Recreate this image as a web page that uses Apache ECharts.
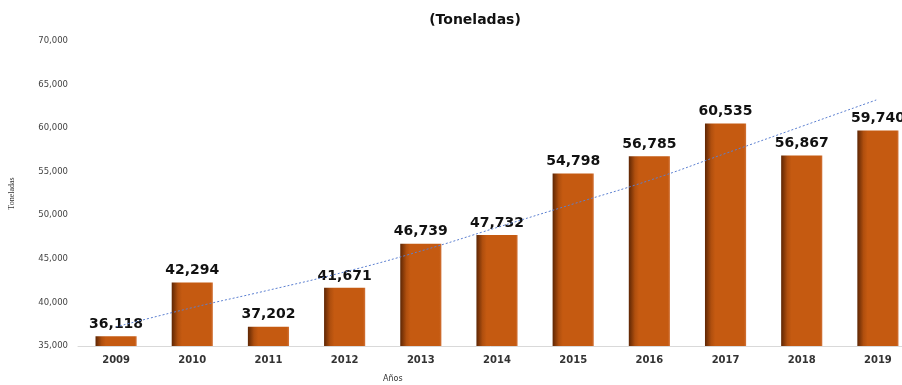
<!DOCTYPE html>
<html>
<head>
<meta charset="utf-8">
<script src="https://cdn.jsdelivr.net/npm/echarts@6/dist/echarts.min.js"></script>
<style>
  html, body { margin: 0; padding: 0; background: #fff; }
  #chart { width: 902px; height: 385px; }
</style>
</head>
<body>
<div id="chart"></div>
<script>
// años
var years = ['2009', '2010', '2011', '2012', '2013', '2014', '2015', '2016', '2017', '2018', '2019'];
// toneladas por año
var toneladas = [36118, 42294, 37202, 41671, 46739, 47732, 54798, 56785, 60535, 56867, 59740];
// línea de tendencia
var tendencia = [37200, 39400, 41400, 43500, 45900, 48600, 51300, 54000, 57100, 60200, 63300];

var fmt = function (v) { return Number(v).toLocaleString('en-US'); };

var chart = echarts.init(document.getElementById('chart'));
chart.setOption({
  animation: false,
  title: {
    text: '(Toneladas)',
    left: 470,
    top: 8,
    textAlign: 'center',
    textStyle: { fontFamily: 'DejaVu Sans', fontWeight: 'bold', fontSize: 14, color: '#111' }
  },
  // texto del eje x, a la izquierda como en el original
  graphic: [{
    type: 'text',
    left: 383,
    top: 375,
    style: { text: 'Años', fontFamily: 'DejaVu Sans', fontSize: 8, fill: '#333' }
  }],
  // el gráfico original está cortado a la derecha
  grid: { left: 78, width: 838, top: 41, bottom: 39, outerBoundsMode: 'none', containLabel: false },
  xAxis: {
    type: 'category',
    data: years,
    axisLine: { lineStyle: { color: '#d9d9d9' } },
    axisTick: { show: false },
    axisLabel: { fontFamily: 'DejaVu Sans', fontWeight: 'bold', fontSize: 10, color: '#333', margin: 9 }
  },
  yAxis: {
    type: 'value',
    min: 35000,
    max: 70000,
    interval: 5000,
    name: 'Toneladas',
    nameLocation: 'middle',
    nameGap: 62,
    nameRotate: 90,
    nameTextStyle: { fontFamily: 'Liberation Sans Narrow', fontSize: 8, color: '#333' },
    axisLine: { show: false },
    axisTick: { show: false },
    splitLine: { show: false },
    axisLabel: {
      fontFamily: 'DejaVu Sans', fontSize: 8.5, color: '#444', margin: 10,
      formatter: fmt
    }
  },
  series: [
    {
      type: 'bar',
      data: toneladas,
      barWidth: '54%',
      itemStyle: {
        color: {
          type: 'linear', x: 0, y: 0, x2: 1, y2: 0,
          colorStops: [
            { offset: 0, color: '#5e2604' },
            { offset: 0.15, color: '#b04f0e' },
            { offset: 0.25, color: '#c55a11' },
            { offset: 0.95, color: '#c55a11' },
            { offset: 1, color: '#d2743a' }
          ]
        }
      },
      label: {
        show: true,
        position: 'top',
        distance: 5,
        fontFamily: 'DejaVu Sans',
        fontWeight: 'bold',
        fontSize: 14,
        color: '#111',
        formatter: function (p) { return fmt(p.value); }
      },
      z: 2
    },
    {
      type: 'line',
      data: tendencia,
      smooth: true,
      symbol: 'none',
      lineStyle: { color: '#5b7fd0', width: 1, type: [2, 2] },
      z: 3
    }
  ]
});
</script>
</body>
</html>
